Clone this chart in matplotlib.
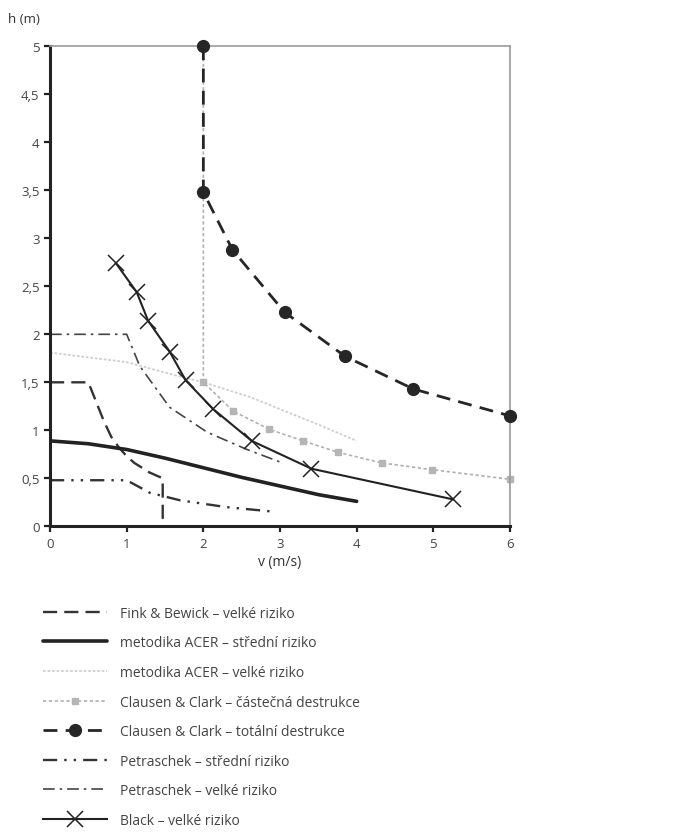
import matplotlib
matplotlib.use("Agg")
import matplotlib.pyplot as plt
from matplotlib.ticker import FuncFormatter

plt.rcParams['font.family'] = ['Open Sans', 'DejaVu Sans']

# Fink & Bewick - velke riziko
fink_v = [0, 0.5, 0.6, 0.7, 0.8, 0.9, 1.0, 1.1, 1.2, 1.3, 1.47, 1.47]
fink_h = [1.5, 1.5, 1.3, 1.1, 0.93, 0.82, 0.73, 0.66, 0.61, 0.56, 0.5, 0]

# metodika ACER - stredni riziko
acer_s_v = [0, 0.5, 1, 1.5, 2, 2.5, 3, 3.5, 4]
acer_s_h = [0.89, 0.86, 0.8, 0.71, 0.61, 0.51, 0.42, 0.33, 0.26]

# metodika ACER - velke riziko
acer_v_v = [0, 1, 1.6, 2, 2.6, 3, 3.5, 4]
acer_v_h = [1.81, 1.71, 1.58, 1.5, 1.35, 1.22, 1.06, 0.89]

# Clausen & Clark - castecna destrukce
cc_c_v = [2, 2, 2.39, 2.86, 3.3, 3.76, 4.33, 4.98, 6.0]
cc_c_h = [5, 1.5, 1.2, 1.01, 0.89, 0.77, 0.66, 0.59, 0.49]

# Clausen & Clark - totalni destrukce
cc_t_v = [2, 2, 2.38, 3.06, 3.85, 4.74, 6.0]
cc_t_h = [5, 3.48, 2.88, 2.23, 1.77, 1.43, 1.15]

# Petraschek - stredni riziko
pet_s_v = [0, 1, 1.3, 1.7, 2.3, 2.95]
pet_s_h = [0.48, 0.48, 0.35, 0.27, 0.2, 0.15]

# Petraschek - velke riziko
pet_v_v = [0, 1, 1.17, 1.56, 2.05, 2.57, 3.0]
pet_v_h = [2, 2, 1.67, 1.24, 0.98, 0.8, 0.67]

# Black - velke riziko
black_v = [0.86, 1.13, 1.28, 1.56, 1.77, 2.13, 2.63, 3.41, 5.26]
black_h = [2.74, 2.44, 2.14, 1.82, 1.52, 1.22, 0.89, 0.6, 0.28]

labels = [
    'Fink & Bewick – velké riziko',
    'metodika ACER – střední riziko',
    'metodika ACER – velké riziko',
    'Clausen & Clark – částečná destrukce',
    'Clausen & Clark – totální destrukce',
    'Petraschek – střední riziko',
    'Petraschek – velké riziko',
    'Black – velké riziko',
]

fig = plt.figure(figsize=(6.88, 8.37), dpi=100)
ax = fig.add_axes([0.0727, 0.370, 0.6686, 0.5735])

handles = []
h, = ax.plot(fink_v, fink_h, color='#333333', lw=1.7, ls=(0, (6, 3)))
handles.append(h)
h, = ax.plot(acer_s_v, acer_s_h, color='#222222', lw=2.6, solid_capstyle='round')
handles.append(h)
h, = ax.plot(acer_v_v, acer_v_h, color='#cfcfcf', lw=1.3, ls=(0, (1.5, 1)))
handles.append(h)
h, = ax.plot(cc_c_v, cc_c_h, color='#b0b0b0', lw=1.2, ls=(0, (2, 1.5)),
             marker='s', ms=5, mfc='#b5b5b5', mec='#b5b5b5', clip_on=False)
handles.append(h)
h, = ax.plot(cc_t_v, cc_t_h, color='#262626', lw=2.0, ls=(0, (5, 3)),
             marker='o', ms=8.5, mfc='#262626', mec='#262626', clip_on=False, zorder=5)
handles.append(h)
h, = ax.plot(pet_s_v, pet_s_h, color='#333333', lw=1.7, ls=(0, (6, 3, 1, 3, 1, 3)))
handles.append(h)
h, = ax.plot(pet_v_v, pet_v_h, color='#444444', lw=1.2, ls=(0, (7, 3, 1.5, 3)))
handles.append(h)
h, = ax.plot(black_v, black_h, color='#222222', lw=1.5,
             marker='x', ms=12, mew=1.1, clip_on=False)
handles.append(h)

ax.set_xlim(0, 6)
ax.set_ylim(0, 5)
ax.set_xticks(range(0, 7))
ax.set_yticks([0, 0.5, 1, 1.5, 2, 2.5, 3, 3.5, 4, 4.5, 5])
fmt = FuncFormatter(lambda v, p: ('%g' % v).replace('.', ','))
ax.xaxis.set_major_formatter(fmt)
ax.yaxis.set_major_formatter(fmt)
ax.tick_params(direction='out', length=4, width=1.6, colors='#222222',
               labelcolor='#444444', labelsize=9.5)

for s in ['left', 'bottom']:
    ax.spines[s].set_linewidth(2.2)
    ax.spines[s].set_color('#222222')
for s in ['top', 'right']:
    ax.spines[s].set_linewidth(1.2)
    ax.spines[s].set_color('#9a9a9a')

fig.text(0.012, 0.972, 'h (m)', fontsize=9.5, color='#333333')
ax.set_xlabel('v (m/s)', fontsize=10, color='#333333', labelpad=3)

fig.legend(handles, labels, loc='upper left', bbox_to_anchor=(0.045, 0.290),
           frameon=False, fontsize=10, labelcolor='#444444', handlelength=4.6,
           handletextpad=0.9, labelspacing=1.05, numpoints=1)

fig.savefig('out.png', dpi=100)
